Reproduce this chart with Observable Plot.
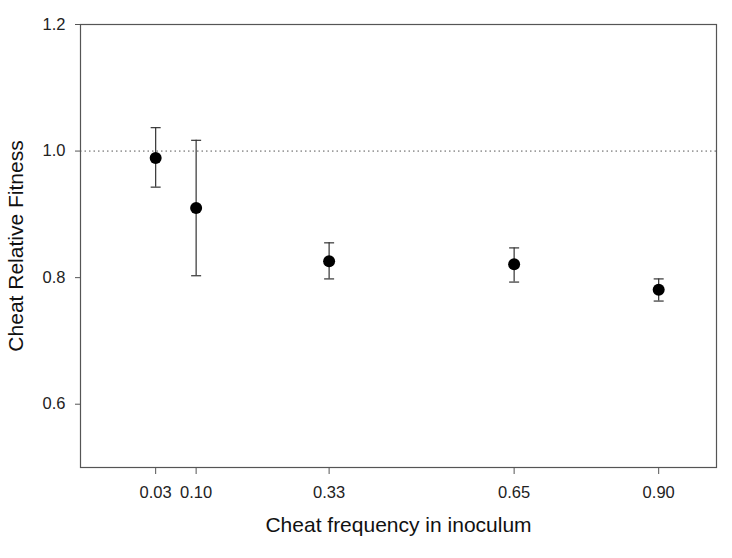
<!DOCTYPE html>
<html>
<head>
<meta charset="utf-8">
<script src="https://cdn.jsdelivr.net/npm/d3@7"></script>
<script src="https://cdn.jsdelivr.net/npm/@observablehq/plot@0.6"></script>
<style>
  html, body { margin: 0; padding: 0; background: #fff; }
</style>
</head>
<body>
<div id="chart"></div>
<script>
const freq = [0.03, 0.10, 0.33, 0.65, 0.90];
const fitness = [0.989, 0.910, 0.826, 0.821, 0.781];
const errLow = [0.943, 0.803, 0.798, 0.793, 0.763];
const errHigh = [1.037, 1.017, 0.855, 0.847, 0.798];
const yTicks = [0.6, 0.8, 1.0, 1.2];
const xLabel = "Cheat frequency in inoculum";
const yLabel = "Cheat Relative Fitness";

const data = freq.map((f, i) => ({f, v: fitness[i], lo: errLow[i], hi: errHigh[i]}));

const capSymbol = {
  draw(context, size) {
    const w = 5;
    context.moveTo(-w, 0);
    context.lineTo(w, 0);
  }
};

const chart = Plot.plot({
  width: 732,
  height: 558,
  marginLeft: 80,
  marginRight: 16,
  marginTop: 24,
  marginBottom: 91,
  style: {background: "#fff", fontFamily: "'Liberation Sans', Arial, sans-serif", color: "#222"},
  x: {domain: [-0.1, 1.0]},
  y: {domain: [0.5, 1.2]},
  marks: [
    Plot.ruleY([1], {stroke: "#555", strokeDasharray: "1.5,3", strokeWidth: 1}),
    Plot.ruleX(data, {x: "f", y1: "lo", y2: "hi", stroke: "#333", strokeWidth: 1.2}),
    Plot.dot(data, {x: "f", y: "hi", symbol: capSymbol, r: 5, stroke: "#333", fill: "none", strokeWidth: 1.2}),
    Plot.dot(data, {x: "f", y: "lo", symbol: capSymbol, r: 5, stroke: "#333", fill: "none", strokeWidth: 1.2}),
    Plot.dot(data, {x: "f", y: "v", r: 6, fill: "#000", stroke: "none"}),
    Plot.frame({stroke: "#555", strokeWidth: 1.2}),
    Plot.axisY({ticks: yTicks, tickFormat: ".1f", tickSize: 5, tickPadding: 10, fontSize: 16.5, label: null, stroke: "#555"}),
    Plot.axisX({ticks: freq, tickFormat: ".2f", tickSize: 7, tickPadding: 12, fontSize: 16.5, label: null, stroke: "#555"}),
    Plot.text([yLabel], {frameAnchor: "left", textAnchor: "middle", rotate: -90, dx: -64, fontSize: 21, fill: "#111"}),
    Plot.text([xLabel], {frameAnchor: "bottom", textAnchor: "middle", dy: 64, fontSize: 21, fill: "#111"})
  ]
});
document.getElementById("chart").appendChild(chart);
</script>
</body>
</html>
